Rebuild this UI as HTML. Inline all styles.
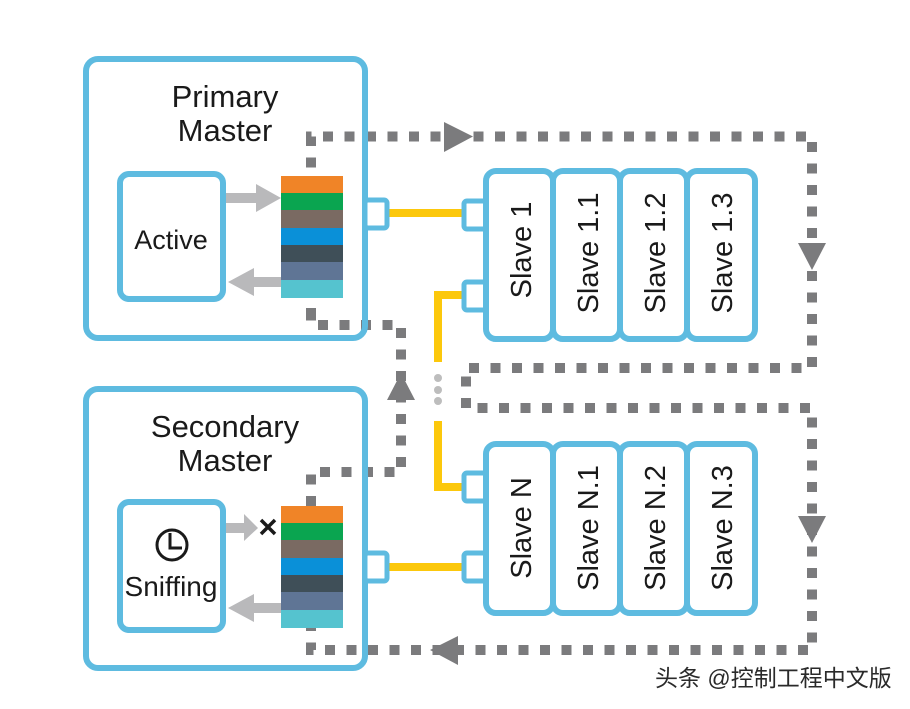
<!DOCTYPE html>
<html><head><meta charset="utf-8"><style>
html,body{margin:0;padding:0;background:#fff;}
svg{display:block;}
text{font-family:"Liberation Sans",Arial,sans-serif;fill:#1a1a1a;}
</style></head><body>
<svg width="910" height="709" viewBox="0 0 910 709" xmlns="http://www.w3.org/2000/svg">
<g fill="none" stroke="#7b7b7d" stroke-width="10" stroke-dasharray="10 11.5">
  <path d="M311 318 V136.5 H812 V368 H466 V408 H812 V650 H311 V616"/>
  <path d="M311 506 V472 H401 V325 H311 V300"/>
</g>
<g fill="#7b7b7d">
  <polygon points="444,122 473,136.5 444,152"/>
  <polygon points="798,243 826,243 812,270"/>
  <polygon points="798,516 826,516 812,543"/>
  <polygon points="458,636 458,665 430,650"/>
  <polygon points="387,400 415,400 401,373"/>
</g>
<g fill="none" stroke="#fcc80c" stroke-width="8">
  <path d="M387 213 H466"/>
  <path d="M466 295 H438 V362"/>
  <path d="M438 421 V487 H466"/>
  <path d="M387 567 H466"/>
</g>
<g fill="#bdbdbd"><circle cx="438" cy="378" r="4"/><circle cx="438" cy="390" r="4"/><circle cx="438" cy="401" r="4"/></g>

<g fill="none" stroke="#5ebbe0" stroke-width="6">
  <rect x="86" y="59" width="279" height="279" rx="12"/>
  <rect x="120" y="174" width="103" height="125" rx="9"/>
  <rect x="86" y="389" width="279" height="279" rx="12"/>
  <rect x="120" y="502" width="103" height="128" rx="9"/>
</g>
<g fill="#fff" stroke="#5ebbe0" stroke-width="5">
  <rect x="365" y="200" width="22" height="28" rx="3"/>
  <rect x="365" y="553" width="22" height="28" rx="3"/>
  <rect x="464" y="201" width="23" height="28" rx="3"/>
  <rect x="464" y="282" width="23" height="28" rx="3"/>
  <rect x="464" y="473" width="23" height="28" rx="3"/>
  <rect x="464" y="553" width="23" height="28" rx="3"/>
</g>
<text x="225" y="107" font-size="31" text-anchor="middle">Primary</text>
<text x="225" y="141" font-size="31" text-anchor="middle">Master</text>
<text x="171" y="249" font-size="27" text-anchor="middle">Active</text>
<text x="225" y="437" font-size="31" text-anchor="middle">Secondary</text>
<text x="225" y="471" font-size="31" text-anchor="middle">Master</text>
<text x="171" y="596" font-size="28" text-anchor="middle">Sniffing</text>
<g fill="none" stroke="#1a1a1a" stroke-width="3">
  <circle cx="172" cy="545" r="15"/>
  <path d="M170 533 V548 H182"/>
</g>
<path d="M261 520 L275 534 M275 520 L261 534" stroke="#1a1a1a" stroke-width="3.5"/>

<g fill="#b9b9bb">
  <rect x="226" y="193" width="32" height="10"/><polygon points="256,184 281,198 256,212"/>
  <rect x="252" y="277" width="30" height="10"/><polygon points="254,268 228,282 254,296"/>
  <rect x="226" y="523" width="20" height="10"/><polygon points="244,514 258,528 244,541"/>
  <rect x="252" y="603" width="30" height="10"/><polygon points="254,594 228,608 254,622"/>
</g>

<g>
  <rect x="281" y="176" width="62" height="18" fill="#f08427"/>
  <rect x="281" y="193" width="62" height="18" fill="#0aa550"/>
  <rect x="281" y="210" width="62" height="19" fill="#7a6a62"/>
  <rect x="281" y="228" width="62" height="18" fill="#0a90d8"/>
  <rect x="281" y="245" width="62" height="18" fill="#3f4f58"/>
  <rect x="281" y="262" width="62" height="19" fill="#5f7595"/>
  <rect x="281" y="280" width="62" height="18" fill="#55c3cf"/>

  <rect x="281" y="506" width="62" height="18" fill="#f08427"/>
  <rect x="281" y="523" width="62" height="18" fill="#0aa550"/>
  <rect x="281" y="540" width="62" height="19" fill="#7a6a62"/>
  <rect x="281" y="558" width="62" height="18" fill="#0a90d8"/>
  <rect x="281" y="575" width="62" height="18" fill="#3f4f58"/>
  <rect x="281" y="592" width="62" height="19" fill="#5f7595"/>
  <rect x="281" y="610" width="62" height="18" fill="#55c3cf"/>
</g>

<g fill="#fff" stroke="#5ebbe0" stroke-width="6">
  <rect x="486" y="171" width="67" height="168" rx="10"/>
  <rect x="553" y="171" width="67" height="168" rx="10"/>
  <rect x="620" y="171" width="67" height="168" rx="10"/>
  <rect x="687" y="171" width="68" height="168" rx="10"/>
  <rect x="486" y="444" width="67" height="169" rx="10"/>
  <rect x="553" y="444" width="67" height="169" rx="10"/>
  <rect x="620" y="444" width="67" height="169" rx="10"/>
  <rect x="687" y="444" width="68" height="169" rx="10"/>
</g>
<g font-size="29" text-anchor="middle">
  <text transform="translate(531,250) rotate(-90)">Slave 1</text>
  <text transform="translate(598,253) rotate(-90)">Slave 1.1</text>
  <text transform="translate(665,253) rotate(-90)">Slave 1.2</text>
  <text transform="translate(732,253) rotate(-90)">Slave 1.3</text>
  <text transform="translate(531,528) rotate(-90)">Slave N</text>
  <text transform="translate(598,528) rotate(-90)">Slave N.1</text>
  <text transform="translate(665,528) rotate(-90)">Slave N.2</text>
  <text transform="translate(732,528) rotate(-90)">Slave N.3</text>
</g>
<text x="655" y="686" font-size="23" style="font-family:'Liberation Sans','Noto Sans CJK SC',sans-serif;fill:#2a2a2a">头条 @控制工程中文版</text>
</svg>
</body></html>
